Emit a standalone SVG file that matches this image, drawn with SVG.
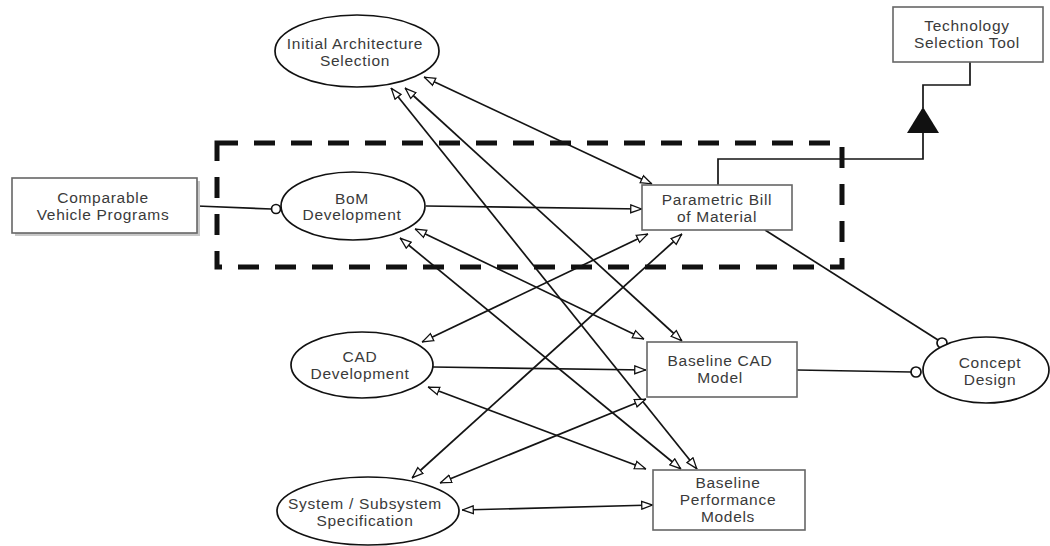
<svg xmlns="http://www.w3.org/2000/svg" width="1050" height="546" viewBox="0 0 1050 546">
  <defs>
    <style>
      .lbl { font-family: "Liberation Sans", Arial, sans-serif; font-size: 15.5px; letter-spacing: 0.7px; fill: #3a3a3a; text-anchor: middle; }
      .ell { fill: #fff; stroke: #111; stroke-width: 1.7; }
      .box { fill: #fff; stroke: #666; stroke-width: 1.6; }
      .shadow { fill: #c8c8c8; }
      .link { fill: none; stroke: #141414; stroke-width: 1.7; }
      .both { marker-start: url(#open); marker-end: url(#open); }
      .one { marker-end: url(#open); }
      .ball { fill: #fff; stroke: #111; stroke-width: 1.7; }
      .scope { fill: none; stroke: #111; stroke-width: 5; stroke-dasharray: 21 16; }
    </style>
    <!-- hollow triangular arrowhead used on all dependency links -->
    <marker id="open" viewBox="0 0 13 10" refX="13" refY="5" markerWidth="12" markerHeight="10" markerUnits="userSpaceOnUse" orient="auto-start-reverse">
      <path d="M0.8,0.8 L12.5,5 L0.8,9.2 Z" fill="#fff" stroke="#111" stroke-width="1.4"/>
    </marker>
  </defs>

  <rect width="1050" height="546" fill="#fff"/>

  <!-- dashed scope around the bill-of-material activities -->
  <rect class="scope" x="217" y="143" width="625" height="124"/>

  <g id="connectors">
    <!-- external inputs / outputs with ball ends -->
    <line class="link" x1="197" y1="206" x2="271.5" y2="209"/>
    <circle class="ball" cx="276" cy="209" r="4.5"/>
    <line class="link" x1="765" y1="230" x2="938" y2="340"/>
    <circle class="ball" cx="942" cy="343" r="5"/>
    <line class="link" x1="797" y1="370" x2="911" y2="372"/>
    <circle class="ball" cx="916" cy="372" r="5"/>

    <!-- link up to the technology selection tool -->
    <polyline class="link" points="718,185 718,159 923,159 923,132"/>
    <polygon points="923,107 907,133 939,133" fill="#111"/>
    <polyline class="link" points="923,108 923,85 970,85 970,62"/>

    <!-- one-way flows -->
    <line class="link one" x1="426" y1="206" x2="642" y2="209"/>
    <line class="link one" x1="433" y1="367" x2="646" y2="370"/>

    <!-- two-way flows -->
    <line class="link both" x1="424" y1="77" x2="652" y2="184"/>
    <line class="link both" x1="405" y1="88" x2="682" y2="341"/>
    <line class="link both" x1="391" y1="88" x2="697" y2="469"/>
    <line class="link both" x1="415" y1="229" x2="644" y2="339"/>
    <line class="link both" x1="400" y1="238" x2="681" y2="469"/>
    <line class="link both" x1="648" y1="234" x2="422" y2="342"/>
    <line class="link both" x1="682" y1="234" x2="412" y2="478"/>
    <line class="link both" x1="440" y1="483" x2="646" y2="399"/>
    <line class="link both" x1="428" y1="387" x2="646" y2="469"/>
    <line class="link both" x1="462" y1="510" x2="653" y2="505"/>
  </g>

  <g id="initial-architecture">
    <ellipse class="ell" cx="357" cy="51" rx="82" ry="36"/>
    <text class="lbl" x="355" y="49">Initial Architecture</text>
    <text class="lbl" x="355" y="66">Selection</text>
  </g>

  <g id="comparable-programs">
    <rect class="shadow" x="15" y="181" width="185" height="55"/>
    <rect class="box" x="12" y="178" width="185" height="55"/>
    <text class="lbl" x="103" y="203">Comparable</text>
    <text class="lbl" x="103" y="220">Vehicle Programs</text>
  </g>

  <g id="bom-development">
    <ellipse class="ell" cx="353" cy="206" rx="72" ry="34"/>
    <text class="lbl" x="352" y="204">BoM</text>
    <text class="lbl" x="352" y="220">Development</text>
  </g>

  <g id="parametric-bom">
    <rect class="box" x="642" y="185" width="150" height="45"/>
    <text class="lbl" x="717" y="205">Parametric Bill</text>
    <text class="lbl" x="717" y="222">of Material</text>
  </g>

  <g id="technology-selection">
    <rect class="box" x="893" y="7" width="150" height="55"/>
    <text class="lbl" x="967" y="31">Technology</text>
    <text class="lbl" x="967" y="48">Selection Tool</text>
  </g>

  <g id="cad-development">
    <ellipse class="ell" cx="362" cy="365" rx="71" ry="33"/>
    <text class="lbl" x="360" y="362">CAD</text>
    <text class="lbl" x="360" y="379">Development</text>
  </g>

  <g id="baseline-cad">
    <rect class="box" x="647" y="342" width="150" height="55"/>
    <text class="lbl" x="720" y="366">Baseline CAD</text>
    <text class="lbl" x="720" y="383">Model</text>
  </g>

  <g id="concept-design">
    <ellipse class="ell" cx="986" cy="370" rx="63" ry="33"/>
    <text class="lbl" x="990" y="368">Concept</text>
    <text class="lbl" x="990" y="385">Design</text>
  </g>

  <g id="system-specification">
    <ellipse class="ell" cx="368" cy="511" rx="91" ry="34"/>
    <text class="lbl" x="365" y="509">System / Subsystem</text>
    <text class="lbl" x="365" y="526">Specification</text>
  </g>

  <g id="baseline-performance">
    <rect class="box" x="653" y="470" width="152" height="60"/>
    <text class="lbl" x="728" y="488">Baseline</text>
    <text class="lbl" x="728" y="505">Performance</text>
    <text class="lbl" x="728" y="522">Models</text>
  </g>
</svg>
